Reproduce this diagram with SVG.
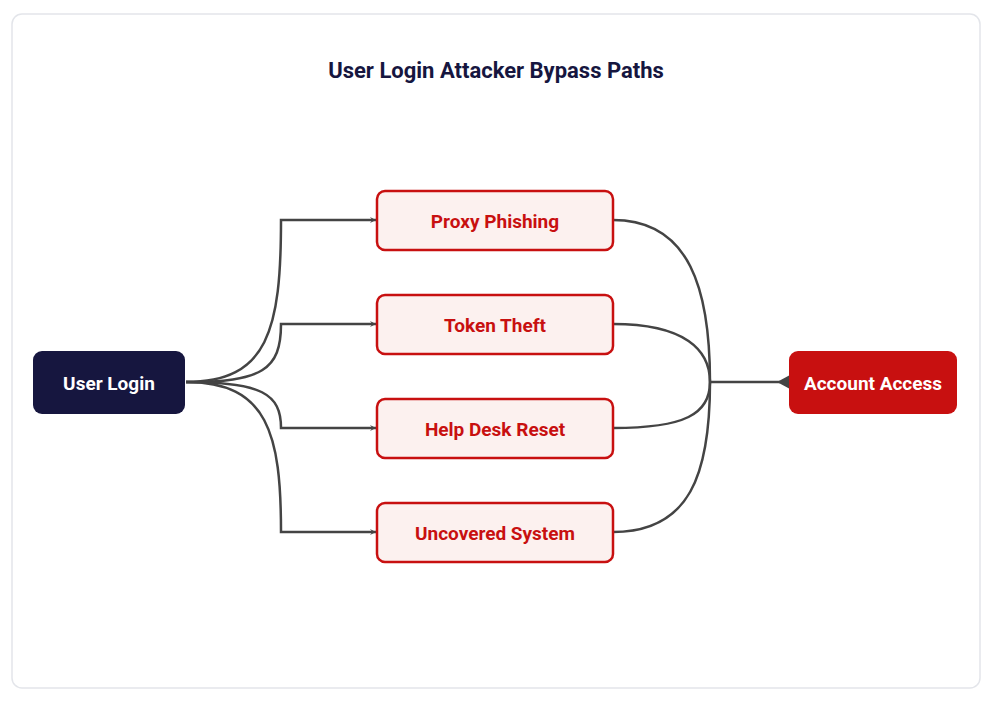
<svg xmlns="http://www.w3.org/2000/svg" width="994" height="702" viewBox="0 0 994 702">
<style>
text{font-family:Roboto,"Liberation Sans",sans-serif;font-weight:700;text-anchor:middle;dominant-baseline:central}
.mid rect{fill:#fcf1ef;stroke:#c81010;stroke-width:2.5}
.mid text{fill:#c81010;font-size:19px}
.c{fill:none;stroke:#444;stroke-width:2.5}
</style>
<defs>
<marker id="a" viewBox="0 0 10 10" refX="10" refY="5" markerWidth="6" markerHeight="6" orient="auto" markerUnits="userSpaceOnUse">
<path d="M0,10 L10,5 L0,0 L4,5 Z" fill="#444"/>
</marker>
</defs>
<rect x="0" y="0" width="994" height="702" fill="#fff"/>
<rect x="12" y="14" width="968" height="674" rx="10" fill="#fff" stroke="#e3e5ea" stroke-width="1.5"/>
<text x="496" y="70" font-size="22" fill="#16163f">User Login Attacker Bypass Paths</text>
<g id="connectors">
<path class="c" marker-end="url(#a)" d="M186,382 C268,382 281,330 281,220 H376"/>
<path class="c" marker-end="url(#a)" d="M186,382 C262,382 281,370 281,324 H376"/>
<path class="c" marker-end="url(#a)" d="M186,382 C262,382 281,394 281,428 H376"/>
<path class="c" marker-end="url(#a)" d="M186,382 C268,382 281,434 281,532 H376"/>
<path class="c" d="M613,220 C690,220 710,290 710,382"/>
<path class="c" d="M613,324 C685,324 710,350 710,382"/>
<path class="c" d="M613,428 C685,428 710,414 710,382"/>
<path class="c" d="M613,532 C690,532 710,474 710,382"/>
<path class="c" d="M710,382 H780"/>
<path d="M777,382 L790,375 L790,389 Z" fill="#444"/>
</g>
<g id="user-login"><rect x="33" y="351" width="152" height="63" rx="9" fill="#16163f"/><text x="109" y="383" font-size="19" fill="#fff">User Login</text></g>
<g id="proxy-phishing" class="mid"><rect x="377" y="191" width="236" height="59" rx="8"/><text x="495" y="221">Proxy Phishing</text></g>
<g id="token-theft" class="mid"><rect x="377" y="295" width="236" height="59" rx="8"/><text x="495" y="325">Token Theft</text></g>
<g id="help-desk-reset" class="mid"><rect x="377" y="399" width="236" height="59" rx="8"/><text x="495" y="429">Help Desk Reset</text></g>
<g id="uncovered-system" class="mid"><rect x="377" y="503" width="236" height="59" rx="8"/><text x="495" y="533">Uncovered System</text></g>
<g id="account-access"><rect x="789" y="351" width="168" height="63" rx="9" fill="#c81010"/><text x="873" y="383" font-size="19" fill="#fff">Account Access</text></g>
</svg>
